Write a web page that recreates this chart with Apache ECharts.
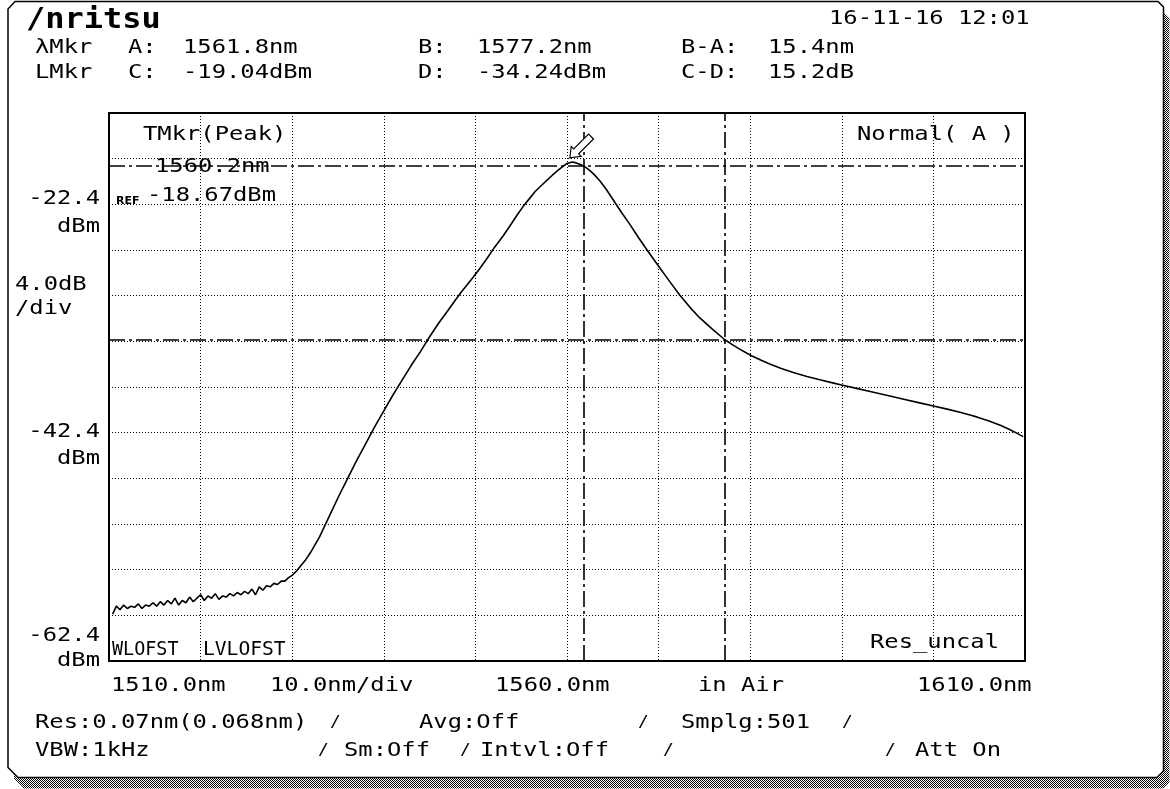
<!DOCTYPE html>
<html>
<head>
<meta charset="utf-8">
<script src="https://cdn.jsdelivr.net/npm/echarts@6/dist/echarts.min.js"></script>
<style>
html,body{margin:0;padding:0;background:#fff;}
#c{width:1170px;height:789px;}
</style>
</head>
<body>
<div id="c"></div>
<script>
// ---------- data ----------
const wavelengthNm = [
 1510.4,1510.8,1511.2,1511.6,1512.0,1512.4,1512.8,1513.2,1513.6,1514.0,1514.4,1514.8,1515.2,1515.6,1516.0,1516.4,1516.8,1517.2,1517.6,1518.0,
 1518.4,1518.8,1519.2,1519.6,1520.0,1520.4,1520.8,1521.2,1521.6,1522.0,1522.4,1522.8,1523.2,1523.6,1524.0,1524.4,1524.8,1525.2,1525.6,1526.0,
 1526.4,1526.8,1527.2,1527.6,1528.0,1528.4,1528.8,1529.2,1529.6,1530.0,1530.5,1531.0,1531.5,1532.0,1532.5,
 1533.0,1534.0,1535.0,1536.0,1537.0,1538.0,1539.0,1540.0,1541.0,1542.0,1543.0,1544.0,1545.0,1546.0,1547.0,1547.8,1548.4,1549.1,1549.8,
 1550.5,1551.3,1552.1,1553.0,1553.8,1554.5,1555.2,1555.9,1556.5,1557.2,1557.8,1558.4,1559.0,1559.6,1560.0,1560.2,1560.6,1561.0,1561.4,1561.8,
 1562.2,1562.6,1563.0,1563.6,1564.3,1565.0,1565.9,1566.9,1567.8,1568.7,1569.4,1570.2,1571.2,1572.3,1573.4,1574.5,1575.9,1577.2,1578.0,1578.9,
 1579.6,1580.2,1581.2,1582.2,1583.4,1584.7,1586.2,1587.6,1589.0,1590.1,1591.6,1593.1,1594.4,1595.6,1597.0,1598.5,1600.0,1601.5,1602.9,1604.0,
 1604.8,1606.0,1607.3,1608.2,1609.0,1609.8
];
const powerDbm = [
 -58.3,-57.6,-57.9,-57.5,-57.8,-57.6,-57.7,-57.4,-57.8,-57.5,-57.6,-57.3,-57.6,-57.2,-57.5,-57.1,-57.4,-56.9,-57.5,-57.1,
 -57.3,-56.8,-57.2,-56.9,-56.6,-57.1,-56.7,-56.9,-56.5,-57.0,-56.7,-56.8,-56.5,-56.7,-56.4,-56.6,-56.3,-56.5,-56.1,-56.6,
 -55.9,-56.2,-55.8,-55.9,-55.6,-55.7,-55.4,-55.4,-55.1,-54.9,-54.5,-54.0,-53.5,-52.9,-52.2,
 -51.5,-49.8,-48.1,-46.5,-44.9,-43.4,-41.9,-40.5,-39.1,-37.8,-36.5,-35.3,-34.0,-32.8,-31.7,-30.8,-30.15,-29.45,-28.75,
 -28.0,-27.1,-26.15,-25.2,-24.25,-23.4,-22.6,-21.9,-21.3,-20.75,-20.3,-19.85,-19.42,-19.05,-18.82,-18.67,-18.69,-18.77,-18.88,-19.04,
 -19.25,-19.52,-19.82,-20.35,-21.1,-21.95,-23.05,-24.2,-25.3,-26.35,-27.15,-28.05,-29.15,-30.35,-31.4,-32.35,-33.35,-34.24,-34.67,-35.1,
 -35.42,-35.68,-36.06,-36.41,-36.78,-37.13,-37.48,-37.77,-38.04,-38.25,-38.52,-38.79,-39.03,-39.25,-39.51,-39.79,-40.06,-40.34,-40.61,-40.85,
 -41.04,-41.36,-41.75,-42.08,-42.4,-42.75
];
const markerWavelengthsNm = [1561.8, 1577.2];   // A, B
const markerLevelsDbm = [-19.04, -34.24];       // C, D
const peakPoint = [1560.2, -18.67];
const yTickValues = [-22.4, -42.4, -62.4];
const yTickLabels = ['-22.4', '-42.4', '-62.4'];
const xTickLabels = ['1510.0nm', '1560.0nm', '1610.0nm'];
const headerRow1 = ['λMkr', 'A:', '1561.8nm', 'B:', '1577.2nm', 'B-A:', '15.4nm'];
const headerRow2 = ['LMkr', 'C:', '-19.04dBm', 'D:', '-34.24dBm', 'C-D:', '15.2dB'];
const footerRow1 = ['Res:0.07nm(0.068nm)', '/', 'Avg:Off', '/', 'Smplg:501', '/'];
const footerRow2 = ['VBW:1kHz', '/', 'Sm:Off', '/', 'Intvl:Off', '/', '/', 'Att On'];

// ---------- layout ----------
const FONT = '20px "DejaVu Sans Mono"';
const SX = 1.19;
const headerX = [35, 128, 183, 418, 477, 681, 768];
const footer1X = [35, 330, 419, 638, 681, 842];
const footer2X = [35, 318, 344, 460, 480, 663, 885, 915];

const chart = echarts.init(document.getElementById('c'), null, {renderer: 'canvas'});
const seriesData = wavelengthNm.map((w, i) => [w, powerDbm[i]]);

chart.setOption({
  animation: false,
  backgroundColor: '#fff',
  grid: {left: 109, top: 113, width: 916, height: 548, show: true, borderColor: '#000', borderWidth: 2, backgroundColor: 'transparent'},
  xAxis: {type: 'value', min: 1510, max: 1610, interval: 10,
    axisLine: {show: false}, axisTick: {show: false}, axisLabel: {show: false},
    splitLine: {show: true, lineStyle: {color: '#000', width: 1, type: [1, 2]}}},
  yAxis: {type: 'value', min: -62.4, max: -14.4, interval: 4,
    axisLine: {show: false}, axisTick: {show: false}, axisLabel: {show: false},
    splitLine: {show: true, lineStyle: {color: '#000', width: 1, type: [1, 2]}}},
  series: [{
    type: 'line', data: seriesData, showSymbol: false, smooth: false, z: 3,
    lineStyle: {color: '#000', width: 1.6},
    markLine: {
      silent: true, symbol: 'none', label: {show: false},
      lineStyle: {color: '#000', width: 1.6, type: [16, 4, 3, 4]},
      data: markerWavelengthsNm.map(v => ({xAxis: v})).concat(markerLevelsDbm.map(v => ({yAxis: v})))
    }
  }]
});

function txt(s, x, y, o) {
  o = o || {};
  return {type: 'text', x: x, y: y, scaleX: o.sx == null ? SX : o.sx, scaleY: o.sy == null ? 1 : o.sy, z: o.z == null ? 1 : o.z,
    style: {text: s, x: 0, y: 0, font: o.font || FONT, fill: '#000',
      textAlign: o.align || 'left', align: o.align || 'left', textVerticalAlign: 'middle', verticalAlign: 'middle'}};
}

// dither pattern for the frame shadow
const pc = document.createElement('canvas');
pc.width = 2; pc.height = 2;
const pctx = pc.getContext('2d');
pctx.fillStyle = '#fff'; pctx.fillRect(0, 0, 2, 2);
pctx.fillStyle = '#000'; pctx.fillRect(0, 0, 1, 1); pctx.fillRect(1, 1, 1, 1);

const framePts = [[15, 1.5], [1158, 1.5], [1163.5, 7], [1163.5, 771], [1157, 777.5], [18, 777.5], [8, 767.5], [8, 9]];
const g = [];
g.push({type: 'polygon', z: -11, shape: {points: framePts.map(p => [p[0] + 6, p[1] + 11])}, style: {fill: {image: pc, repeat: 'repeat'}}});
g.push({type: 'polygon', z: -10, shape: {points: framePts}, style: {fill: '#fff', stroke: '#000', lineWidth: 1.5}});

// header
g.push(txt('/nritsu', 26, 20, {font: 'bold 20px "DejaVu Sans Mono"', sx: 1.6, sy: 1.45}));
g.push(txt('16-11-16 12:01', 829, 19));
headerRow1.forEach((s, i) => g.push(txt(s, headerX[i], 48)));
headerRow2.forEach((s, i) => g.push(txt(s, headerX[i], 73)));

// y labels (positioned from the axis scale)
const yOff = [[-6, 22], [-1, 26], [-25, 0]];
yTickValues.forEach((v, i) => {
  const py = chart.convertToPixel({gridIndex: 0}, [1510, v])[1];
  g.push(txt(yTickLabels[i], 100, py + yOff[i][0], {align: 'right'}));
  g.push(txt('dBm', 100, py + yOff[i][1], {align: 'right'}));
});
g.push(txt('4.0dB', 15, 285));
g.push(txt('/div', 15, 309));

// in-plot annotations
g.push(txt('TMkr(Peak)', 143, 135));
g.push(txt(peakPoint[0].toFixed(1) + 'nm', 155, 167));
g.push(txt('REF', 116, 201, {font: 'bold 11px "DejaVu Sans"', sx: 1}));
g.push(txt(peakPoint[1].toFixed(2) + 'dBm', 147, 196));
g.push(txt('Normal( A )', 857, 135));
g.push(txt('WLOFST', 112, 650, {sx: 0.92}));
g.push(txt('LVLOFST', 203, 650, {sx: 0.98}));
g.push(txt('Res_uncal', 870, 643));

// bottom axis texts
g.push(txt(xTickLabels[0], 111, 686));
g.push(txt('10.0nm/div', 270, 686));
g.push(txt(xTickLabels[1], 495, 686));
g.push(txt('in Air', 698, 686));
g.push(txt(xTickLabels[2], 917, 686));

footerRow1.forEach((s, i) => g.push(txt(s, footer1X[i], 723, s === '/' ? {font: '15px "DejaVu Sans Mono"'} : {})));
footerRow2.forEach((s, i) => g.push(txt(s, footer2X[i], 751, s === '/' ? {font: '15px "DejaVu Sans Mono"'} : {})));

// peak arrow marker
const pk = chart.convertToPixel({gridIndex: 0}, peakPoint);
const local = [[0, 0], [-7, -9], [-3.5, -9], [-3.5, -30], [3.5, -30], [3.5, -9], [7, -9]];
const th = Math.PI / 4;
const arrowPts = local.map(p => [pk[0] + 1 + p[0] * Math.cos(th) - p[1] * Math.sin(th), pk[1] - 4 + p[0] * Math.sin(th) + p[1] * Math.cos(th)]);
g.push({type: 'polygon', z: 5, shape: {points: arrowPts}, style: {fill: '#fff', stroke: '#000', lineWidth: 1.2}});

chart.setOption({graphic: g});
</script>
</body>
</html>
